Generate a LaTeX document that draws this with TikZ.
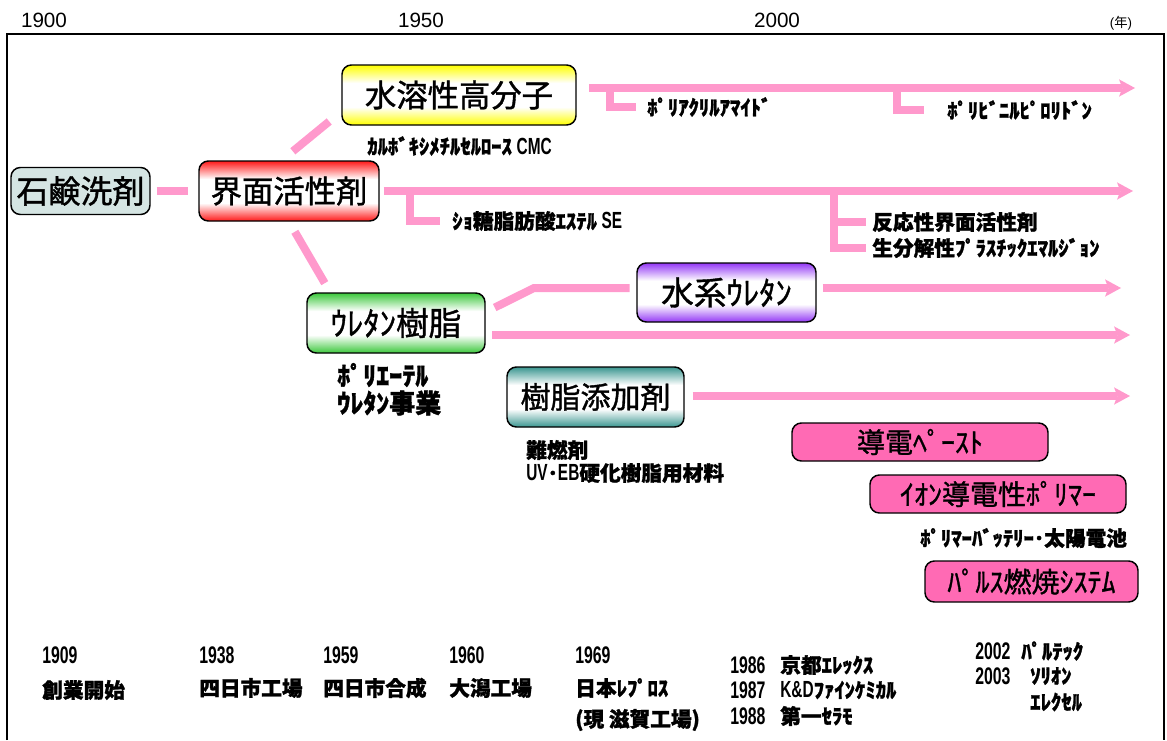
\documentclass[tikz,border=0pt]{standalone}
\usepackage{fontspec}
\setmainfont{Liberation Sans}
\newfontfamily\jp{Noto Sans CJK JP}
\newfontfamily\jpm{Noto Sans CJK JP}[FakeBold=1.2]
\newfontfamily\jph{Noto Sans CJK JP}[FakeBold=1.3]
\newfontfamily\nar{Liberation Sans}[FakeStretch=0.66]
\usetikzlibrary{arrows.meta}
\definecolor{pinkln}{HTML}{FF99CC}
\definecolor{cRed}{HTML}{FF1A1A}
\definecolor{cYel}{HTML}{FFFF00}
\definecolor{cGrn}{HTML}{3CC83C}
\definecolor{cPur}{HTML}{9438F5}
\definecolor{cTea}{HTML}{3A9690}
\definecolor{cSek}{HTML}{D5E5E3}
\definecolor{cPnk}{HTML}{FF6AB4}
\pgfdeclareverticalshading{shRed}{100bp}{color(0bp)=(cRed); color(25bp)=(cRed); color(40bp)=(white); color(60bp)=(white); color(75bp)=(cRed); color(100bp)=(cRed)}
\pgfdeclareverticalshading{shYel}{100bp}{color(0bp)=(cYel); color(25bp)=(cYel); color(40bp)=(white); color(60bp)=(white); color(75bp)=(cYel); color(100bp)=(cYel)}
\pgfdeclareverticalshading{shGrn}{100bp}{color(0bp)=(cGrn); color(25bp)=(cGrn); color(40bp)=(white); color(60bp)=(white); color(75bp)=(cGrn); color(100bp)=(cGrn)}
\pgfdeclareverticalshading{shPur}{100bp}{color(0bp)=(cPur); color(25bp)=(cPur); color(40bp)=(white); color(60bp)=(white); color(75bp)=(cPur); color(100bp)=(cPur)}
\pgfdeclareverticalshading{shTea}{100bp}{color(0bp)=(cTea); color(25bp)=(cTea); color(40bp)=(white); color(60bp)=(white); color(75bp)=(cTea); color(100bp)=(cTea)}
\tikzset{
  box/.style={draw=black, line width=1.1pt, rounded corners=7pt, inner sep=0pt, align=center, font=\jpm\fontsize{23.5}{26}\selectfont},
  gbox/.style={box, shade, shading=#1},
  pbox/.style={box, fill=cPnk, font=\jpm\fontsize{21}{24}\selectfont},
  conn/.style={draw=pinkln, line width=6pt},
  arr/.style={conn, -{Stealth[length=12pt,width=13pt,inset=2.5pt,line width=0pt]}},
  lbl/.style={anchor=west, inner sep=0pt, font=\jph\bfseries\fontsize{15.5}{18}\selectfont},
  lblL/.style={anchor=west, inner sep=0pt, font=\jph\bfseries\fontsize{19.5}{22}\selectfont},
  yr/.style={inner sep=0pt, font=\fontsize{15.5}{18}\selectfont},
  yb/.style={anchor=west, inner sep=0pt, font=\nar\bfseries\fontsize{18}{20}\selectfont},
}
\begin{document}
\begin{tikzpicture}[x=0.75pt,y=-0.75pt]
\useasboundingbox (0,0) rectangle (1167,740);
% frame
\draw[line width=1pt] (7,740) -- (7,34) -- (1164,34) -- (1164,740);
% year axis
\node[yr] (y1900) at (44,20) {1900};
\node[yr] (y1950) at (421,20) {1950};
\node[yr] (y2000) at (777,20) {2000};
\node[inner sep=0pt, font=\fontsize{10}{12}\selectfont] (nen) at (1121,23) {({\jp 年})};
% boxes
\node[box, fill=cSek, minimum width=139*0.75pt, minimum height=47*0.75pt, font=\jpm\fontsize{24}{26}\selectfont] (sekken) at (80.5,191) {石鹸洗剤};
\node[gbox=shRed, minimum width=180*0.75pt, minimum height=60*0.75pt] (kaimen) at (289,191) {界面活性剤};
\node[gbox=shYel, minimum width=234*0.75pt, minimum height=60*0.75pt] (suiyo) at (459,95) {水溶性高分子};
\node[gbox=shGrn, minimum width=178*0.75pt, minimum height=60*0.75pt, font=\jpm\fontsize{24.5}{26}\selectfont] (uretan) at (396,323) {ｳﾚﾀﾝ樹脂};
\node[gbox=shPur, minimum width=179*0.75pt, minimum height=59*0.75pt, font=\jpm\fontsize{24.5}{26}\selectfont] (suikei) at (726.5,292.5) {水系ｳﾚﾀﾝ};
\node[gbox=shTea, minimum width=177*0.75pt, minimum height=60*0.75pt, font=\jpm\fontsize{22.5}{26}\selectfont] (tenka) at (595.5,397) {樹脂添加剤};
\node[pbox, minimum width=256*0.75pt, minimum height=38*0.75pt] (douden) at (920,442) {導電ﾍﾟｰｽﾄ};
\node[pbox, minimum width=256*0.75pt, minimum height=38*0.75pt] (ion) at (998,494) {ｲｵﾝ導電性ﾎﾟﾘﾏｰ};
\node[pbox, minimum width=213*0.75pt, minimum height=41*0.75pt] (pulse) at (1031.5,581.5) {ﾊﾟﾙｽ燃焼ｼｽﾃﾑ};
% labels
\node[lbl] (cmc) at (367,146) {ｶﾙﾎﾞｷｼﾒﾁﾙｾﾙﾛｰｽ {\nar\fontsize{17.5}{18}\selectfont CMC}};
\node[lbl] (pam) at (647,107) {ﾎﾟﾘｱｸﾘﾙｱﾏｲﾄﾞ};
\node[lbl] (pvp) at (947,110) {ﾎﾟﾘﾋﾞﾆﾙﾋﾟﾛﾘﾄﾞﾝ};
\node[lbl] (se) at (452,221) {ｼｮ糖脂肪酸ｴｽﾃﾙ {\nar\fontsize{17.5}{18}\selectfont SE}};
\node[lbl] (hannou) at (872,222) {反応性界面活性剤};
\node[lbl] (bunkai) at (872,248) {生分解性ﾌﾟﾗｽﾁｯｸｴﾏﾙｼﾞｮﾝ};
\node[lblL] (pether) at (337,375) {ﾎﾟﾘｴｰﾃﾙ};
\node[lblL] (ujigyo) at (337,403) {ｳﾚﾀﾝ事業};
\node[lbl] (nannen) at (526,450) {難燃剤};
\node[lbl] (uveb) at (526,473) {{\nar\fontsize{17.5}{18}\selectfont UV}･{\nar\fontsize{17.5}{18}\selectfont EB}硬化樹脂用材料};
\node[lbl] (battery) at (920,538) {ﾎﾟﾘﾏｰﾊﾞｯﾃﾘｰ･太陽電池};
% company history
\node[yb] (d1909) at (42,655) {1909};
\node[lbl] (sougyo) at (42,690) {創業開始};
\node[yb] (d1938) at (199,655) {1938};
\node[lbl] (yokka1) at (199,688) {四日市工場};
\node[yb] (d1959) at (323,655) {1959};
\node[lbl] (yokka2) at (323,688) {四日市合成};
\node[yb] (d1960) at (449,655) {1960};
\node[lbl] (ogata) at (449,688) {大潟工場};
\node[yb] (d1969) at (575,655) {1969};
\node[lbl] (repros) at (575,688) {日本ﾚﾌﾟﾛｽ};
\node[lbl] (shiga) at (575,720) {(現 滋賀工場)};
\node[yb] (d1986) at (730,665) {1986};
\node[lbl] (kyoto) at (780,665) {京都ｴﾚｯｸｽ};
\node[yb] (d1987) at (730,690) {1987};
\node[lbl] (kd) at (780,690) {{\nar\fontsize{17.5}{18}\selectfont K\&D}ﾌｧｲﾝｹﾐｶﾙ};
\node[yb] (d1988) at (730,716) {1988};
\node[lbl] (daiichi) at (780,716) {第一ｾﾗﾓ};
\node[yb] (d2002) at (975,651) {2002};
\node[lbl] (paltec) at (1021,651) {ﾊﾟﾙﾃｯｸ};
\node[yb] (d2003) at (975,676) {2003};
\node[lbl] (solion) at (1030,676) {ｿﾘｵﾝ};
\node[lbl] (elexcel) at (1030,702) {ｴﾚｸｾﾙ};
% coordinates
\coordinate (e1) at (1135,88);
\coordinate (e2) at (1133,191);
\coordinate (e3) at (1121,288);
\coordinate (e4) at (1130,335);
\coordinate (e5) at (1130,396);
\coordinate (b1) at (610,88);
\coordinate (b2) at (897,88);
\coordinate (b3) at (410,191);
\coordinate (b4) at (834,191);
\coordinate (bend) at (534,288);
% connectors
\draw[conn, shorten <=4.5pt, shorten >=7.5pt] (sekken) -- (kaimen);
\draw[conn, shorten <=10.6pt, shorten >=11.7pt] (kaimen.103) -- (suiyo.188);
\draw[conn, shorten <=8.7pt, shorten >=7.9pt] (kaimen.south) -- (uretan.155);
\draw[conn, shorten <=7.5pt, shorten >=5pt] (uretan.7) -- (bend) -- (suikei.west |- bend);
% arrows
\draw[arr, shorten <=9.5pt] (suiyo.east |- e1) -- (e1);
\draw[arr, shorten <=3pt] (kaimen.east |- e2) -- (e2);
\draw[arr, shorten <=4.5pt] (suikei.east |- e3) -- (e3);
\draw[arr, shorten <=5pt] (uretan.east |- e4) -- (e4);
\draw[arr, shorten <=6pt] (tenka.east |- e5) -- (e5);
% branches
\draw[conn, shorten >=8pt] (b1) |- (pam.west);
\draw[conn, shorten >=17pt] (b2) |- (pvp.west);
\draw[conn, shorten >=9pt] (b3) |- (se.west);
\draw[conn, shorten >=4.5pt] (b4) |- (bunkai.west);
\draw[conn, shorten >=4.5pt] (b4 |- hannou.west) -- (hannou.west);
\end{tikzpicture}
\end{document}
